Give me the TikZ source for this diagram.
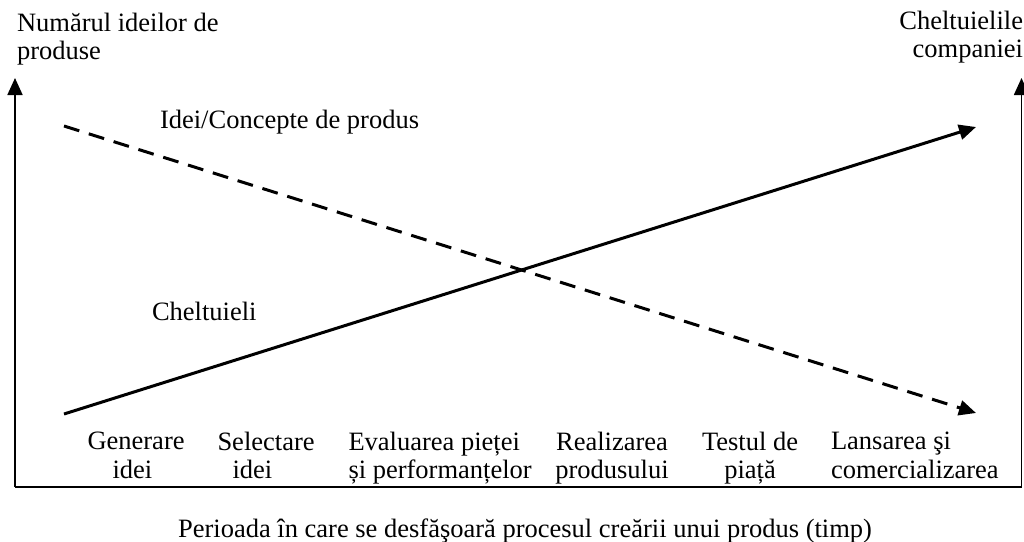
\documentclass[tikz,border=0pt]{standalone}
\usepackage{fontspec}
\setmainfont{Liberation Serif}
\usetikzlibrary{arrows.meta}
\tikzset{
  lbl/.style={inner sep=0pt, outer sep=0pt, font=\fontsize{26.5}{28.5}\selectfont},
  axis/.style={line width=1.8pt, -{Triangle[length=17pt,width=15pt]}},
  curve/.style={line width=3pt, -{Triangle[length=17pt,width=15pt]}},
  dcurve/.style={curve, dash pattern=on 16pt off 10pt},
}
\begin{document}
\begin{tikzpicture}[x=1pt,y=-1pt]
\useasboundingbox (0,0) rectangle (1024,541);
% axes
\coordinate (O) at (15,487);
\coordinate (R) at (1021.5,487);
\coordinate (Ytop) at (15,78);
\coordinate (Rtop) at (1021.5,78);
\draw[line width=1.8pt] (O) -- (R);
\draw[axis] (O) -- (Ytop);
\draw[axis] (R) -- (Rtop);
% curves
\coordinate (d1) at (64,126);
\coordinate (d2) at (976,413);
\coordinate (s1) at (64,414);
\coordinate (s2) at (976,127);
\draw[dcurve] (d1) -- (d2);
\draw[curve] (s1) -- (s2);
% titles
\node[lbl, anchor=north west, align=left] (ylab) at (17,13) {Numărul ideilor de\\produse};
\node[lbl, anchor=north east, align=right] (rlab) at (1023,11) {Cheltuielile\\companiei};
\node[lbl, anchor=base west] (idei) at (160,128) {Idei/Concepte de produs};
\node[lbl, anchor=base west] (chelt) at (152,320) {Cheltuieli};
% steps
\node[lbl, anchor=north west, align=left] (st1) at (87.5,432) {Generare\\\hspace{25pt}idei};
\node[lbl, anchor=north west, align=left] (st2) at (217.5,432) {Selectare\\\hspace{15pt}idei};
\node[lbl, anchor=north west, align=left] (st3) at (348.5,432) {Evaluarea pieței\\și performanțelor};
\node[lbl, anchor=north, align=center] (st4) at (612,432) {Realizarea\\produsului};
\node[lbl, anchor=north, align=center] (st5) at (750,432) {Testul de\\piață};
\node[lbl, anchor=north west, align=left] (st6) at (831,432) {Lansarea şi\\comercializarea};
% caption
\node[lbl, anchor=base] (cap) at (525,537) {Perioada în care se desfăşoară procesul creării unui produs (timp)};
\end{tikzpicture}
\end{document}
